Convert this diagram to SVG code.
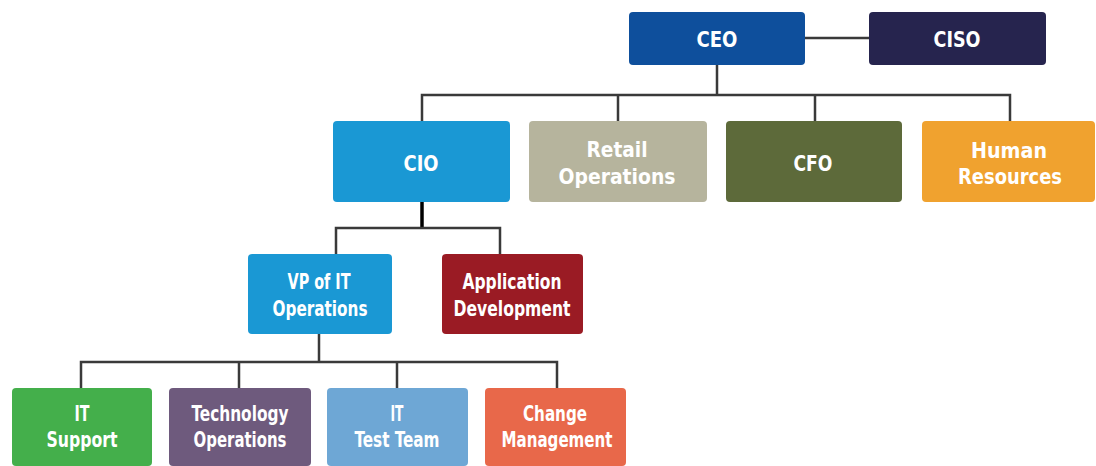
<svg xmlns="http://www.w3.org/2000/svg" width="1096" height="466" viewBox="0 0 1096 466">
<style>
.n rect{rx:4;ry:4}
.n text{font-family:"DejaVu Sans Condensed","DejaVu Sans",sans-serif;font-weight:bold;font-size:21px;fill:#ffffff;text-anchor:middle}
.c{fill:none;stroke:#3a3a3a;stroke-width:2.5}
.k{fill:none;stroke:#000000;stroke-width:3.5}
</style>
<rect width="1096" height="466" fill="#ffffff"/>
<g id="connectors">
<line class="c" x1="805" y1="38" x2="869" y2="38"/>
<path class="c" d="M717 65 V95 M422 121 V95 H1010 V121 M618 95 V121 M815 95 V121"/>
<path class="k" d="M422 202 V228"/>
<path class="c" d="M336 254 V228 H500 V254"/>
<path class="c" d="M319 334 V362 M81 388 V362 H557 V388 M239 362 V388 M397 362 V388"/>
</g>
<g id="ceo" class="n"><rect x="629" y="12" width="176" height="53" fill="#0e4f9c"/><text x="717" y="47" textLength="41" lengthAdjust="spacingAndGlyphs">CEO</text></g>
<g id="ciso" class="n"><rect x="869" y="12" width="177" height="53" fill="#26244e"/><text x="957" y="47" textLength="47" lengthAdjust="spacingAndGlyphs">CISO</text></g>
<g id="cio" class="n"><rect x="333" y="121" width="177" height="81" fill="#1a98d4"/><text x="421" y="171" textLength="35" lengthAdjust="spacingAndGlyphs">CIO</text></g>
<g id="retail" class="n"><rect x="529" y="121" width="178" height="81" fill="#b6b49d"/><text x="617" y="157" textLength="61" lengthAdjust="spacingAndGlyphs">Retail</text><text x="617" y="184" textLength="117" lengthAdjust="spacingAndGlyphs">Operations</text></g>
<g id="cfo" class="n"><rect x="726" y="121" width="176" height="81" fill="#5d6a3a"/><text x="813" y="171" textLength="39" lengthAdjust="spacingAndGlyphs">CFO</text></g>
<g id="hr" class="n"><rect x="922" y="121" width="173" height="81" fill="#f0a22f"/><text x="1009" y="158" textLength="76" lengthAdjust="spacingAndGlyphs">Human</text><text x="1010" y="184" textLength="104" lengthAdjust="spacingAndGlyphs">Resources</text></g>
<g id="vp" class="n"><rect x="248" y="254" width="144" height="80" fill="#1a98d4"/><text x="319" y="289" textLength="63" lengthAdjust="spacingAndGlyphs">VP of IT</text><text x="320" y="316" textLength="95" lengthAdjust="spacingAndGlyphs">Operations</text></g>
<g id="appdev" class="n"><rect x="442" y="254" width="141" height="80" fill="#9a1b24"/><text x="512" y="289" textLength="99" lengthAdjust="spacingAndGlyphs">Application</text><text x="512" y="316" textLength="117" lengthAdjust="spacingAndGlyphs">Development</text></g>
<g id="itsupport" class="n"><rect x="12" y="388" width="140" height="78" fill="#44af4b"/><text x="82" y="421" textLength="15" lengthAdjust="spacingAndGlyphs">IT</text><text x="82" y="447" textLength="71" lengthAdjust="spacingAndGlyphs">Support</text></g>
<g id="techops" class="n"><rect x="169" y="388" width="142" height="78" fill="#6e5a7d"/><text x="240" y="421" textLength="97" lengthAdjust="spacingAndGlyphs">Technology</text><text x="240" y="447" textLength="93" lengthAdjust="spacingAndGlyphs">Operations</text></g>
<g id="ittest" class="n"><rect x="327" y="388" width="141" height="78" fill="#6ea7d5"/><text x="397" y="421" textLength="13" lengthAdjust="spacingAndGlyphs">IT</text><text x="397" y="447" textLength="85" lengthAdjust="spacingAndGlyphs">Test Team</text></g>
<g id="change" class="n"><rect x="485" y="388" width="141" height="78" fill="#e8684a"/><text x="555" y="421" textLength="64" lengthAdjust="spacingAndGlyphs">Change</text><text x="557" y="447" textLength="111" lengthAdjust="spacingAndGlyphs">Management</text></g>
</svg>
